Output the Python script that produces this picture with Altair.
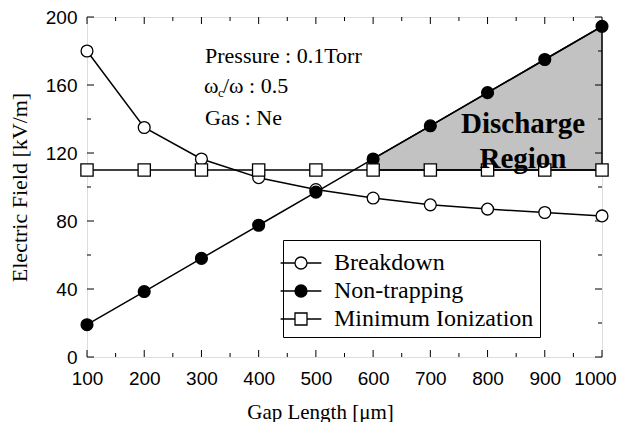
import altair as alt
import pandas as pd

gap = [100, 200, 300, 400, 500, 600, 700, 800, 900, 1000]
breakdown = [180, 135, 116.5, 105.5, 98.5, 93.5, 89.5, 87, 85, 83]
nontrap = [19, 38.5, 58, 77.5, 97, 116.5, 136, 155.5, 175, 194.5]
minion = [110, 110, 110, 110, 110, 110, 110, 110, 110, 110]
series_names = ["Breakdown", "Non-trapping", "Minimum Ionization"]

x_major = [100, 200, 300, 400, 500, 600, 700, 800, 900, 1000]
x_minor = [150, 250, 350, 450, 550, 650, 750, 850, 950]
y_major = [0, 40, 80, 120, 160, 200]
y_minor = [20, 60, 100, 140, 180]

W, H = 515, 340

rows = []
for name, vals in zip(series_names, [breakdown, nontrap, minion]):
    for g, v in zip(gap, vals):
        rows.append({"series": name, "x": g, "y": v})
df = pd.DataFrame(rows)

region = pd.DataFrame({"x": gap[5:], "y": nontrap[5:], "y2": minion[5:]})

xs = alt.Scale(domain=[100, 1000], nice=False, zero=False)
ys = alt.Scale(domain=[0, 200], nice=False)

x_axis = alt.Axis(values=x_major, format="d", ticks=False, domain=False, grid=False,
                  labelFont="Liberation Sans", labelFontSize=19, labelColor="black",
                  labelPadding=12, labelFlush=False,
                  labelOffset={"condition": {"test": "datum.value == 1000", "value": -7}, "value": 0},
                  title="Gap Length [μm]", titleFont="Liberation Serif", titleFontSize=21,
                  titleFontWeight="normal", titleColor="black",
                  titleX=233, titleY=61, titleBaseline="alphabetic")
y_axis = alt.Axis(values=y_major, format="d", ticks=False, domain=False, grid=False,
                  labelFont="Liberation Sans", labelFontSize=19, labelColor="black",
                  labelPadding=10, labelFlush=False,
                  title="Electric Field [kV/m]", titleFont="Liberation Serif", titleFontSize=22,
                  titleFontWeight="normal", titleColor="black",
                  titleX=-61, titleY=H / 2, titleBaseline="alphabetic")

X = alt.X("x:Q", scale=xs, axis=x_axis)
Y = alt.Y("y:Q", scale=ys, axis=y_axis)

area = alt.Chart(region).mark_area(color="#c2c2c2", stroke="black", strokeWidth=1.5, opacity=1).encode(
    x=X, y=Y, y2="y2:Q")

lines = alt.Chart(df).mark_line(color="black", strokeWidth=1.5).encode(
    x=X, y=Y, detail="series:N")

def pts(name, shape, fill, size):
    return alt.Chart(df).transform_filter(alt.datum.series == name).mark_point(
        shape=shape, fill=fill, stroke="black", strokeWidth=1.3, opacity=1, fillOpacity=1, size=size
    ).encode(x=X, y=Y)

p1 = pts("Breakdown", "circle", "white", 140)
p2 = pts("Non-trapping", "circle", "black", 140)
p3 = pts("Minimum Ionization", "square", "white", 150)

def xticks(vals, y0, y1):
    return alt.Chart(pd.DataFrame({"x": vals})).mark_rule(color="black", strokeWidth=1).encode(
        x=X, y=alt.value(y0), y2=alt.value(y1))

def yticks(vals, x0, x1):
    return alt.Chart(pd.DataFrame({"y": vals})).mark_rule(color="black", strokeWidth=1).encode(
        y=Y, x=alt.value(x0), x2=alt.value(x1))

ticks = [
    xticks(x_major, H, H - 7), xticks(x_minor, H, H - 4),
    xticks(x_major, 0, 7), xticks(x_minor, 0, 4),
    yticks(y_major, 0, 7), yticks(y_minor, 0, 4),
    yticks(y_major, W, W - 7), yticks(y_minor, W, W - 4),
]

path_c = "M-3.4,0H-1M1,0H3.4M-1,0A1,1,0,1,0,1,0A1,1,0,1,0,-1,0Z"
path_s = "M-3.4,0H-1M1,0H3.4M-1,-1H1V1H-1Z"

leg = alt.Legend(title=" ", titleFontSize=1, titlePadding=4,
                 orient="none", legendX=196, legendY=223,
                 labelFont="Liberation Serif", labelFontSize=24, labelColor="black",
                 labelLimit=400,
                 symbolSize=144, symbolStrokeWidth=1.3, symbolStrokeColor="black",
                 labelOffset=21, padding=6, rowPadding=4,
                 strokeColor="black", fillColor="white")

legend_layer = alt.Chart(pd.DataFrame({"series": series_names})).mark_point(
    clip=True, strokeWidth=1.3, opacity=1, fillOpacity=1, size=144
).encode(
    x=alt.value(-300), y=alt.value(-300),
    shape=alt.Shape("series:N", scale=alt.Scale(domain=series_names, range=[path_c, path_c, path_s]), legend=leg),
    fill=alt.Fill("series:N", scale=alt.Scale(domain=series_names, range=["white", "black", "white"]), legend=leg),
    stroke=alt.Stroke("series:N", scale=alt.Scale(domain=series_names, range=["black", "black", "black"]), legend=leg),
)

def txt(t, x, y, size=22, weight="normal", align="left"):
    return alt.Chart(pd.DataFrame({"t": [t]})).mark_text(
        font="Liberation Serif", fontSize=size, fontWeight=weight, align=align,
        baseline="alphabetic", color="black"
    ).encode(text="t:N", x=alt.value(x), y=alt.value(y))

texts = [
    txt("Pressure : 0.1Torr", 118, 46),
    txt("ω", 117, 76),
    txt("c", 131, 80, size=13),
    txt("/ω : 0.5", 136, 76),
    txt("Gas : Ne", 118, 108),
    txt("Discharge", 436, 116, size=29, weight="bold", align="center"),
    txt("Region", 436, 151, size=29, weight="bold", align="center"),
]

chart = alt.layer(area, lines, *ticks, p1, p2, p3, legend_layer, *texts).resolve_scale(
    shape="independent", fill="independent", stroke="independent"
).properties(
    width=W, height=H,
    autosize=alt.AutoSizeParams(type="none"),
    padding={"left": 79, "top": 9, "right": 16, "bottom": 65},
).configure_view(stroke="black", strokeWidth=1.5).configure(background="white")

chart.save("out.html", embed_options={"renderer": "svg", "actions": False})
